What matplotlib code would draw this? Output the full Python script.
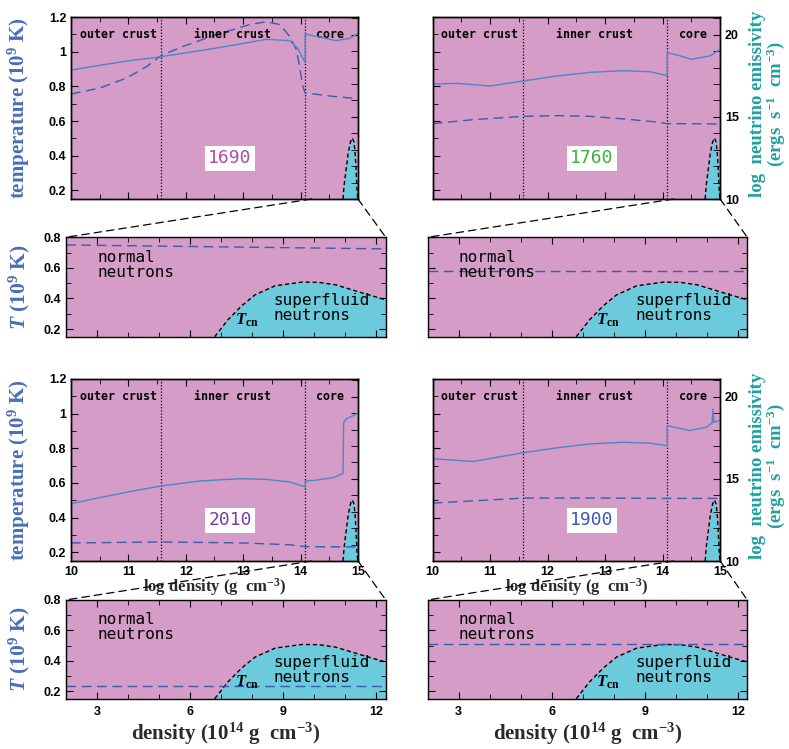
import matplotlib
matplotlib.use("Agg")
import matplotlib.pyplot as plt
from matplotlib.patches import ConnectionPatch
from matplotlib.ticker import MultipleLocator, NullFormatter

plt.rcParams['font.family'] = 'Liberation Sans'
plt.rcParams['font.weight'] = 'bold'
plt.rcParams['mathtext.fontset'] = 'custom'
plt.rcParams['mathtext.rm'] = 'Liberation Serif:bold'
plt.rcParams['mathtext.it'] = 'Liberation Serif:italic:bold'
plt.rcParams['mathtext.bf'] = 'Liberation Serif:bold'
plt.rcParams['axes.linewidth'] = 1.0

pink = '#D49CC7'
cyan = '#6BCADB'
solid_blue = '#4A88C6'
dash_blue = '#3A5CAC'
temp_color = '#4A6DB8'
emis_color = '#20A0A0'
label_gray = '#2a2a2a'

years = ['1690', '1760', '2010', '1900']
year_colors = ['#B24BA2', '#3FAE3F', '#7B3F9E', '#3A5AB0']

# crust regions (log density)
crust_bounds = [11.57, 14.08]
region_names = ['outer crust', 'inner crust', 'core']
region_pos = [10.82, 12.82, 14.52]

# critical temperature bump in log density (main panels)
bump_rho = [14.74, 14.756, 14.80, 14.83, 14.87, 14.90, 14.93, 14.95, 14.965, 14.98, 14.995]
bump_T = [0.15, 0.223, 0.338, 0.416, 0.48, 0.502, 0.48, 0.416, 0.338, 0.223, 0.15]

# critical temperature vs density (10^14 g/cm^3) in zoom panels
tcn_dens = [6.79, 7.22, 7.66, 8.09, 8.74, 9.61, 10.15, 10.69, 11.56, 12.37]
tcn_T = [0.15, 0.261, 0.352, 0.424, 0.483, 0.507, 0.505, 0.489, 0.435, 0.387]

# temperature profiles (dashed), 10^9 K
T_rho_1690 = [10.0, 10.5, 10.97, 11.32, 11.57, 11.95, 12.53, 13.11, 13.4, 13.64, 13.81, 13.93, 13.98, 14.04, 14.08, 14.57, 15.0]
T_1690 = [0.756, 0.79, 0.848, 0.915, 0.977, 1.03, 1.098, 1.156, 1.173, 1.156, 1.088, 1.01, 0.915, 0.80, 0.762, 0.742, 0.729]
T_rho_1760 = [10.0, 10.71, 11.58, 12.16, 12.74, 13.32, 13.78, 14.08, 15.0]
T_1760 = [0.585, 0.608, 0.627, 0.631, 0.627, 0.612, 0.598, 0.585, 0.583]
T_rho_2010 = [10.0, 11.57, 13.0, 13.8, 14.08, 15.0]
T_2010 = [0.254, 0.26, 0.254, 0.244, 0.233, 0.231]
T_rho_1900 = [10.0, 11.58, 13.0, 14.08, 15.0]
T_1900 = [0.484, 0.513, 0.513, 0.511, 0.511]

# log neutrino emissivity (solid)
E_rho_1690 = [10.0, 10.5, 10.98, 11.57, 12.0, 12.5, 13.0, 13.4, 13.81, 13.95, 14.05, 14.08, 14.08, 14.3, 14.62, 14.85, 15.0]
E_1690 = [17.85, 18.14, 18.4, 18.66, 18.9, 19.17, 19.47, 19.72, 19.64, 19.17, 18.5, 18.3, 20.04, 19.88, 19.64, 19.78, 20.06]
E_rho_1760 = [10.0, 10.42, 11.0, 11.58, 12.16, 12.74, 13.32, 13.78, 14.08, 14.08, 14.3, 14.5, 14.83, 15.0]
E_1760 = [17.0, 17.04, 16.88, 17.19, 17.49, 17.71, 17.81, 17.75, 17.51, 18.91, 18.72, 18.5, 18.72, 19.11]
E_rho_2010 = [10.0, 10.5, 11.08, 11.58, 12.24, 12.94, 13.4, 13.81, 14.05, 14.08, 14.08, 14.27, 14.57, 14.74, 14.75, 14.8, 15.0]
E_2010 = [13.49, 13.86, 14.26, 14.57, 14.87, 15.01, 14.97, 14.81, 14.55, 14.5, 14.87, 14.92, 15.08, 15.32, 18.44, 18.65, 19.0]
E_rho_1900 = [10.0, 10.71, 11.58, 12.16, 12.74, 13.32, 13.78, 14.06, 14.08, 14.08, 14.47, 14.76, 14.86, 14.875, 14.89, 15.0]
E_1900 = [16.22, 16.06, 16.59, 16.89, 17.13, 17.23, 17.17, 17.03, 17.0, 18.24, 17.94, 18.14, 18.4, 19.25, 18.44, 18.59]

# core temperature in zoom panels
zoom_dens = [2.0, 12.3]
zoom_T_1690 = [0.75, 0.724]
zoom_T_1760 = [0.58, 0.58]
zoom_T_2010 = [0.232, 0.232]
zoom_T_1900 = [0.51, 0.51]

fig = plt.figure(figsize=(7.89, 7.49), dpi=100)

main_rects = [[0.0900, 0.7343, 0.3637, 0.2430], [0.5484, 0.7343, 0.3643, 0.2430],
              [0.0900, 0.2510, 0.3637, 0.2430], [0.5484, 0.2510, 0.3643, 0.2430]]
zoom_rects = [[0.0837, 0.5505, 0.4052, 0.1327], [0.5421, 0.5505, 0.4050, 0.1327],
              [0.0837, 0.0672, 0.4052, 0.1318], [0.5421, 0.0672, 0.4050, 0.1318]]

T_rhos = [T_rho_1690, T_rho_1760, T_rho_2010, T_rho_1900]
T_vals = [T_1690, T_1760, T_2010, T_1900]
E_rhos = [E_rho_1690, E_rho_1760, E_rho_2010, E_rho_1900]
E_vals = [E_1690, E_1760, E_2010, E_1900]
zoom_Ts = [zoom_T_1690, zoom_T_1760, zoom_T_2010, zoom_T_1900]

serif = 'Liberation Serif'
mono = 'DejaVu Sans Mono'


def style_ticks(a):
    a.tick_params(which='both', direction='in', top=True, labelsize=9, colors='black')
    a.tick_params(which='major', length=5)
    a.tick_params(which='minor', length=3.5)


for i in range(4):
    left = i % 2 == 0
    bottom = i >= 2

    # main panel
    ax = fig.add_axes(main_rects[i])
    ax.set_facecolor(pink)
    ax.set_xlim(10, 15)
    ax.set_ylim(0.15, 1.2)
    ax.fill_between(bump_rho, 0.15, bump_T, color=cyan, lw=0)
    ax.plot(bump_rho, bump_T, color='black', ls=(0, (3, 2)), lw=1)
    for b in crust_bounds:
        ax.axvline(b, color='black', ls=(0, (1, 1.5)), lw=0.9)
    ax.plot(T_rhos[i], T_vals[i], color=dash_blue, ls=(0, (7, 4)), lw=1)
    for name, xp in zip(region_names, region_pos):
        ax.text(xp, 1.10, name, ha='center', va='center', fontsize=8.4,
                family=mono, fontweight='bold')
    ax.text(12.77, 0.385, years[i], ha='center', va='center', fontsize=13,
            family=mono, fontweight='normal', color=year_colors[i],
            bbox=dict(facecolor='white', edgecolor='none', pad=2.5))
    ax.xaxis.set_major_locator(MultipleLocator(1))
    ax.xaxis.set_minor_locator(MultipleLocator(0.5))
    ax.yaxis.set_major_locator(MultipleLocator(0.2))
    ax.yaxis.set_minor_locator(MultipleLocator(0.1))
    style_ticks(ax)
    ax.set_yticks([0.2, 0.4, 0.6, 0.8, 1.0, 1.2])
    ax.set_yticklabels(['0.2', '0.4', '0.6', '0.8', '1', '1.2'])
    if not left:
        ax.yaxis.set_major_formatter(NullFormatter())
    else:
        ax.set_ylabel('temperature (10$^{9}$ K)', color=temp_color, family=serif,
                      fontsize=15, fontweight='bold')
        ax.yaxis.set_label_coords(-0.136, 0.5)
    if not bottom:
        ax.xaxis.set_major_formatter(NullFormatter())
    else:
        ax.set_xlabel('log density (g  cm$^{-3}$)', family=serif, fontsize=12,
                      fontweight='bold', labelpad=-1, color=label_gray)

    ax2 = ax.twinx()
    ax2.set_ylim(10, 21.08)
    ax2.plot(E_rhos[i], E_vals[i], color=solid_blue, lw=1)
    ax2.yaxis.set_major_locator(MultipleLocator(5))
    ax2.yaxis.set_minor_locator(MultipleLocator(1))
    ax2.tick_params(which='both', direction='in', labelsize=9)
    ax2.tick_params(which='major', length=5)
    ax2.tick_params(which='minor', length=5)
    if left:
        ax2.yaxis.set_major_formatter(NullFormatter())
    else:
        ax2.set_ylabel('log  neutrino emissivity\n(ergs  s$^{-1}$  cm$^{-3}$)',
                       color=emis_color, family=serif, fontsize=13.5,
                       fontweight='bold', linespacing=0.9)
        ax2.yaxis.set_label_coords(1.1, 0.52)

    # zoomed panel
    axz = fig.add_axes(zoom_rects[i])
    axz.set_facecolor(pink)
    axz.set_xlim(2, 12.3)
    axz.set_ylim(0.15, 0.8)
    axz.fill_between(tcn_dens, 0.15, tcn_T, color=cyan, lw=0)
    axz.plot(tcn_dens, tcn_T, color='black', ls=(0, (3, 2)), lw=1)
    axz.plot(zoom_dens, zoom_Ts[i], color=dash_blue, ls=(0, (7, 4)), lw=1)
    axz.text(3.0, 0.622, 'normal\nneutrons', ha='left', va='center', fontsize=11.5,
             family=mono, fontweight='normal', linespacing=1.0)
    axz.text(8.69, 0.338, 'superfluid\nneutrons', ha='left', va='center', fontsize=11.5,
             family=mono, fontweight='normal', linespacing=1.0)
    axz.text(7.44, 0.26, r'$T_{\rm cn}$', ha='left', va='center', fontsize=12)
    axz.xaxis.set_major_locator(MultipleLocator(3))
    axz.xaxis.set_minor_locator(MultipleLocator(1))
    axz.yaxis.set_major_locator(MultipleLocator(0.2))
    axz.yaxis.set_minor_locator(MultipleLocator(0.1))
    style_ticks(axz)
    axz.tick_params(which='both', right=True)
    axz.tick_params(axis='x', pad=5)
    if left:
        axz.set_ylabel('$T$ (10$^{9}$ K)', color=temp_color, family=serif,
                       fontsize=15.5, fontweight='bold')
        axz.yaxis.set_label_coords(-0.106, 0.5)
    else:
        axz.yaxis.set_major_formatter(NullFormatter())
    if bottom:
        axz.set_xlabel('density (10$^{14}$ g  cm$^{-3}$)', family=serif, fontsize=15,
                       fontweight='bold', labelpad=2, color=label_gray)
    else:
        axz.xaxis.set_major_formatter(NullFormatter())

    # connector lines
    for xa, xb in [(14.19, 2.0), (15.0, 12.3)]:
        con = ConnectionPatch(xyA=(xa, 0.15), coordsA=ax.transData,
                              xyB=(xb, 0.8), coordsB=axz.transData,
                              color='black', lw=0.9, ls=(0, (6, 4)))
        fig.add_artist(con)

fig.savefig('out.png', dpi=100)
